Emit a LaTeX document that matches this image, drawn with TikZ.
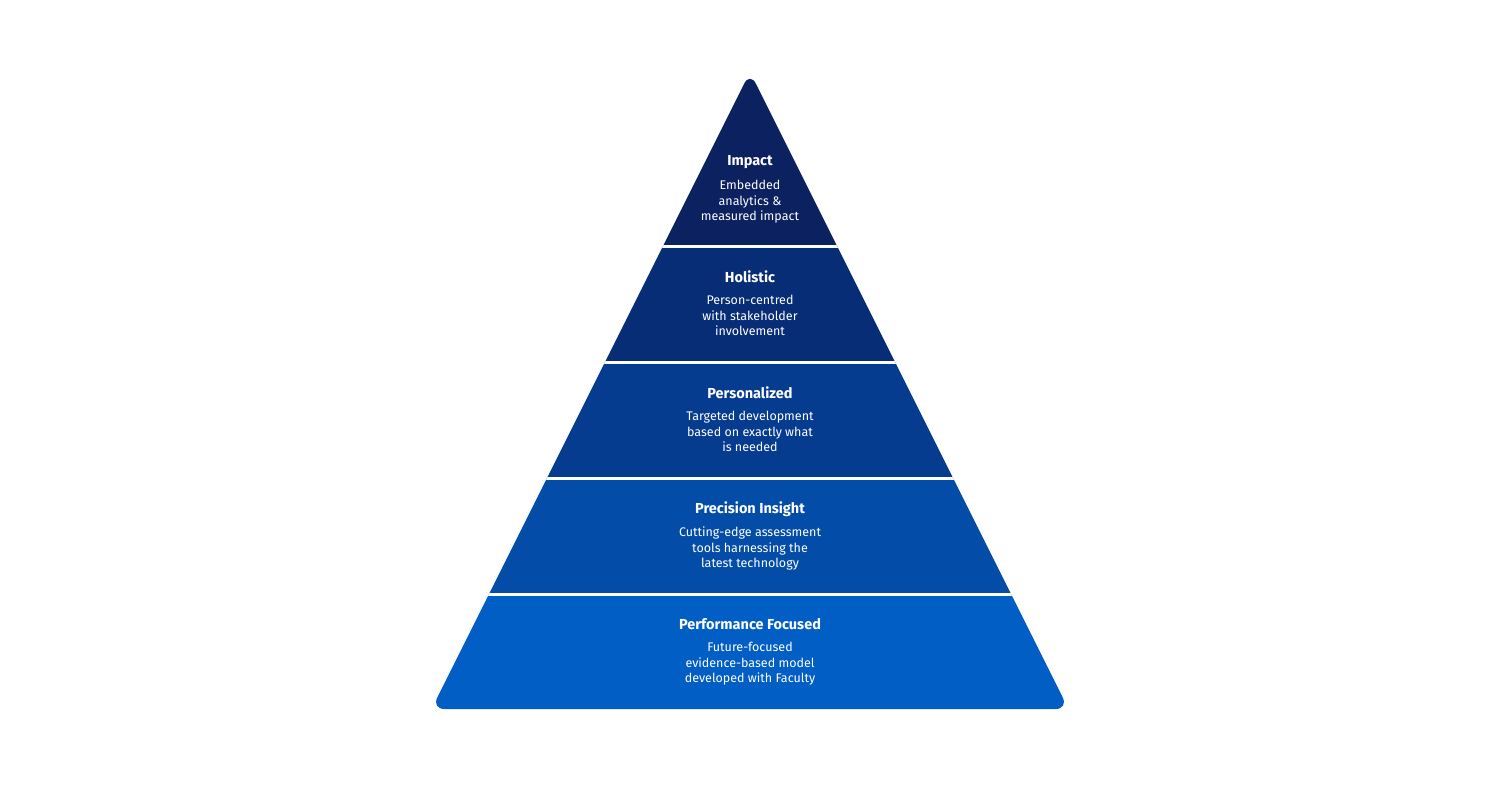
\documentclass[tikz,border=0pt]{standalone}
\usepackage{fontspec}
\setmainfont{Fira Sans}
\begin{document}
\begin{tikzpicture}[x=1pt,y=-1pt,
  ttl/.style={font=\fontsize{14.5}{16}\selectfont\bfseries, text=white, inner sep=0},
  bdy/.style={font=\fontsize{12.5}{15.5}\selectfont, text=white, align=center, inner sep=0},
  gap/.style={white, line width=3.5pt}]
\useasboundingbox (0,0) rectangle (1500,800);
\definecolor{c1}{HTML}{0B2160}
\definecolor{c2}{HTML}{072D77}
\definecolor{c3}{HTML}{053C8F}
\definecolor{c4}{HTML}{034DA8}
\definecolor{c5}{HTML}{015EC5}
\begin{scope}
\clip[rounded corners=13pt] (750,72) -- (1068.5,709) -- (431.5,709) -- cycle;
\fill[c1] (400,60) rectangle (1100,246.5);
\fill[c2] (400,246.5) rectangle (1100,362.5);
\fill[c3] (400,362.5) rectangle (1100,478.5);
\fill[c4] (400,478.5) rectangle (1100,594.5);
\fill[c5] (400,594.5) rectangle (1100,720);
\draw[gap] (400,246.5) -- (1100,246.5);
\draw[gap] (400,362.5) -- (1100,362.5);
\draw[gap] (400,478.5) -- (1100,478.5);
\draw[gap] (400,594.5) -- (1100,594.5);
\end{scope}
\node[ttl] (t1) at (750,162) {Impact};
\node[bdy, anchor=north] (b1) at (750,180) {Embedded\\analytics \&\\measured impact};
\node[ttl] (t2) at (750,277) {Holistic};
\node[bdy, anchor=north] (b2) at (750,295) {Person-centred\\with stakeholder\\involvement};
\node[ttl] (t3) at (750,393) {Personalized};
\node[bdy, anchor=north] (b3) at (750,411) {Targeted development\\based on exactly what\\is needed};
\node[ttl] (t4) at (750,509) {Precision Insight};
\node[bdy, anchor=north] (b4) at (750,527) {Cutting-edge assessment\\tools harnessing the\\latest technology};
\node[ttl] (t5) at (750,624) {Performance Focused};
\node[bdy, anchor=north] (b5) at (750,642) {Future-focused\\evidence-based model\\developed with Faculty};
\end{tikzpicture}
\end{document}
